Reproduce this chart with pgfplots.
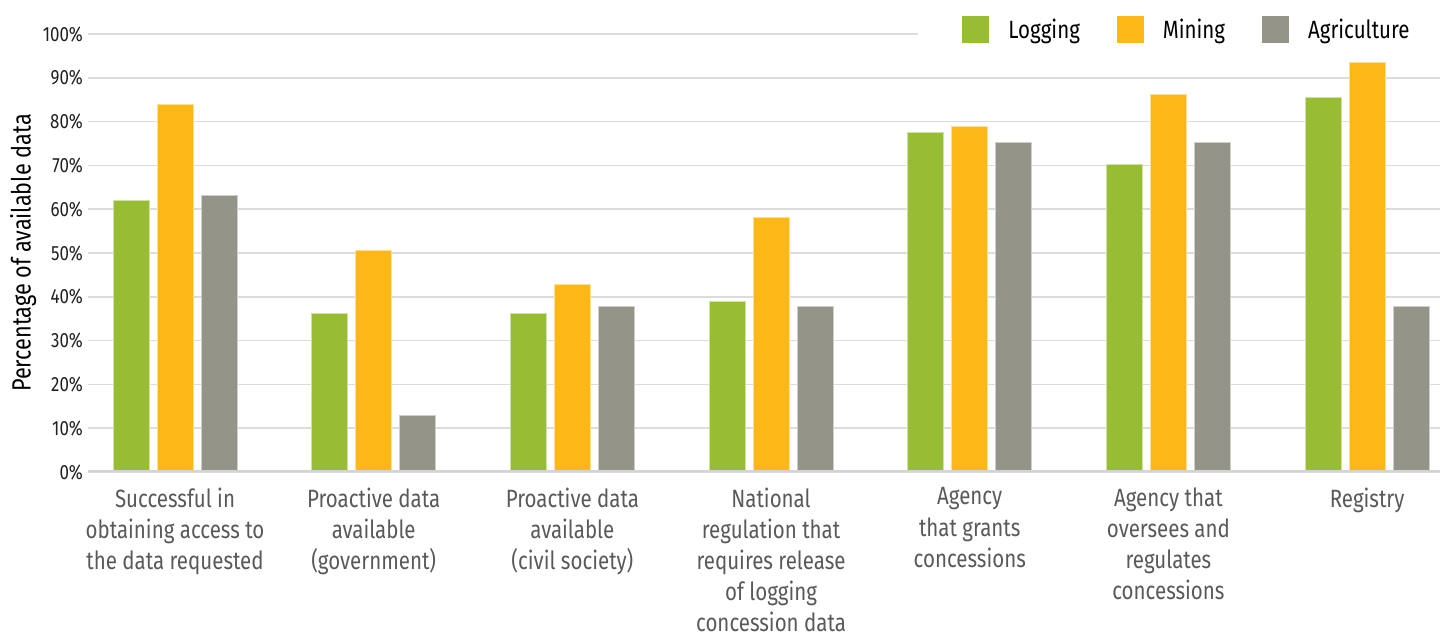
\documentclass[border=0pt]{standalone}
\usepackage{fontspec}
\setmainfont{Fira Sans}[FakeStretch=0.82]
\usepackage{pgfplots}
\pgfplotsset{compat=1.18}

\definecolor{logc}{HTML}{96BD34}
\definecolor{minc}{HTML}{FBB817}
\definecolor{agrc}{HTML}{949489}
\definecolor{gridc}{HTML}{DCDCDC}
\definecolor{axisc}{HTML}{D4D4D4}
\definecolor{catc}{HTML}{58595B}
\definecolor{tickc}{HTML}{231F20}

\begin{document}
\begin{tikzpicture}
\path[use as bounding box] (0,0) rectangle (720pt,318.5pt);
\begin{axis}[
  at={(44pt,82.5pt)}, anchor=south west,
  scale only axis, width=676pt, height=219pt,
  xmin=-0.438, xmax=6.367, ymin=0, ymax=100,
  ybar=4pt, bar width=18pt,
  axis line style={draw=none},
  tick style={draw=none},
  ytick={0,10,...,90},
  extra y ticks={100},
  extra y tick style={grid=none},
  ymajorgrids, major grid style={gridc, line width=0.8pt},
  /pgf/number format/assume math mode=true,
  yticklabel={\pgfmathprintnumber{\tick}\%},
  yticklabel style={font=\fontsize{10.3}{12}\selectfont, text=tickc, xshift=1pt},
  xtick={0,...,6},
  xticklabels={
    {Successful in\\obtaining access to\\the data requested},
    {Proactive data\\available\\(government)},
    {Proactive data\\available\\(civil society)},
    {National\\regulation that\\requires release\\of logging\\concession data},
    {Agency\\that grants\\concessions},
    {Agency that\\oversees and\\regulates\\concessions},
    {Registry}},
  xticklabel style={align=center, font=\fontsize{12.5}{15.6}\selectfont, text=catc, yshift=0pt},
  ylabel={Percentage of available data},
  ylabel style={at={(axis description cs:-0.048,0.5)}, anchor=center, font=\fontsize{13.2}{15}\selectfont, text=black},
  legend columns=-1,
  legend style={draw=none, fill=none, inner sep=0pt,
    at={(rel axis cs:0.6465,1)}, anchor=west, yshift=2pt,
    font=\fontsize{12.5}{15}\selectfont,
    /tikz/every odd column/.append style={column sep=7.5pt},
    /tikz/every even column/.append style={column sep=16.5pt}},
  legend image code/.code={\fill[#1, draw=none] (0pt,-6.75pt) rectangle (13.5pt,6.75pt);},
]
\addplot[fill=logc, draw=logc!45!white, line width=0.5pt] coordinates {
  (0,61.9) (1,36.3) (2,36.3) (3,39.0) (4,77.4) (5,70.1) (6,85.6)};
\addplot[fill=minc, draw=minc!45!white, line width=0.5pt] coordinates {
  (0,84.0) (1,50.5) (2,42.9) (3,58.0) (4,78.8) (5,86.1) (6,93.6)};
\addplot[fill=agrc, draw=agrc!45!white, line width=0.5pt] coordinates {
  (0,63.2) (1,12.8) (2,37.7) (3,37.7) (4,75.3) (5,75.3) (6,37.7)};
\legend{Logging, Mining, Agriculture}
% 100% rule stops short of the legend
\draw[gridc, line width=0.8pt] (rel axis cs:0,1) -- (axis cs:3.74,100);
% baseline
\draw[axisc, line width=1.6pt] (rel axis cs:0,0) -- (rel axis cs:1,0);
\end{axis}
\end{tikzpicture}
\end{document}
